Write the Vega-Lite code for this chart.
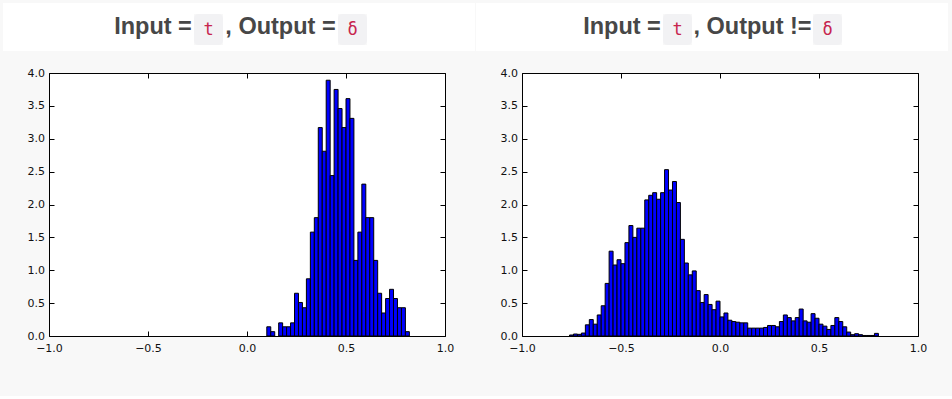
{
  "$schema": "https://vega.github.io/schema/vega-lite/v6.json",
  "background": "#f8f8f8",
  "padding": {"left": 3, "top": 3, "right": 4, "bottom": 42},
  "config": {"view": {"stroke": null}},
  "spacing": 1,
  "hconcat": [
    {
      "vconcat": [
        {
          "hconcat": [
            {"width": 109, "height": 48, "view": {"fill": "white", "stroke": null}, "data": {"values": []}, "mark": "text"},
            {"width": 82, "height": 48, "view": {"fill": "white", "stroke": null}, "data": {"values": [{"label": "Input ="}]}, "mark": {"type": "text", "font": "Liberation Sans", "fontWeight": "bold", "fontSize": 23.5, "fill": "#474747"}, "encoding": {"text": {"field": "label"}}},
            {
              "vconcat": [
                {"width": 29, "height": 11, "view": {"fill": "white", "stroke": null}, "data": {"values": []}, "mark": "text"},
                {"width": 29, "height": 31, "view": {"fill": "#f2f2f4", "stroke": null, "cornerRadius": 4}, "data": {"values": [{"label": "t"}]}, "mark": {"type": "text", "font": "DejaVu Sans Mono", "fontSize": 17, "fill": "#c7254e"}, "encoding": {"text": {"field": "label"}}},
                {"width": 29, "height": 6, "view": {"fill": "white", "stroke": null}, "data": {"values": []}, "mark": "text"}
              ],
              "spacing": 0
            },
            {"width": 115, "height": 48, "view": {"fill": "white", "stroke": null}, "data": {"values": [{"label": ", Output ="}]}, "mark": {"type": "text", "font": "Liberation Sans", "fontWeight": "bold", "fontSize": 23.5, "fill": "#474747"}, "encoding": {"text": {"field": "label"}}},
            {
              "vconcat": [
                {"width": 29, "height": 11, "view": {"fill": "white", "stroke": null}, "data": {"values": []}, "mark": "text"},
                {"width": 29, "height": 31, "view": {"fill": "#f2f2f4", "stroke": null, "cornerRadius": 4}, "data": {"values": [{"label": "δ"}]}, "mark": {"type": "text", "font": "DejaVu Sans Mono", "fontSize": 17, "fill": "#c7254e"}, "encoding": {"text": {"field": "label"}}},
                {"width": 29, "height": 6, "view": {"fill": "white", "stroke": null}, "data": {"values": []}, "mark": "text"}
              ],
              "spacing": 0
            },
            {"width": 108, "height": 48, "view": {"fill": "white", "stroke": null}, "data": {"values": []}, "mark": "text"}
          ],
          "spacing": 0
        },
        {
          "hconcat": [
            {"width": 23, "height": 10, "data": {"values": []}, "mark": "text"},
            {
              "width": 396, "height": 263,
              "view": {"fill": "white", "stroke": "#000", "strokeWidth": 1},
              "data": {"values": [
                {"bin_start": 0.10, "bin_end": 0.12, "density": 0.14},
                {"bin_start": 0.12, "bin_end": 0.14, "density": 0.066},
                {"bin_start": 0.16, "bin_end": 0.18, "density": 0.20},
                {"bin_start": 0.18, "bin_end": 0.20, "density": 0.14},
                {"bin_start": 0.20, "bin_end": 0.22, "density": 0.14},
                {"bin_start": 0.22, "bin_end": 0.24, "density": 0.20},
                {"bin_start": 0.24, "bin_end": 0.26, "density": 0.65},
                {"bin_start": 0.26, "bin_end": 0.28, "density": 0.51},
                {"bin_start": 0.28, "bin_end": 0.30, "density": 0.43},
                {"bin_start": 0.30, "bin_end": 0.32, "density": 0.87},
                {"bin_start": 0.32, "bin_end": 0.34, "density": 1.58},
                {"bin_start": 0.34, "bin_end": 0.36, "density": 1.80},
                {"bin_start": 0.36, "bin_end": 0.38, "density": 3.17},
                {"bin_start": 0.38, "bin_end": 0.40, "density": 2.81},
                {"bin_start": 0.40, "bin_end": 0.42, "density": 3.89},
                {"bin_start": 0.42, "bin_end": 0.44, "density": 2.44},
                {"bin_start": 0.44, "bin_end": 0.46, "density": 3.75},
                {"bin_start": 0.46, "bin_end": 0.48, "density": 3.46},
                {"bin_start": 0.48, "bin_end": 0.50, "density": 3.17},
                {"bin_start": 0.50, "bin_end": 0.52, "density": 3.61},
                {"bin_start": 0.52, "bin_end": 0.54, "density": 3.31},
                {"bin_start": 0.54, "bin_end": 0.56, "density": 1.15},
                {"bin_start": 0.56, "bin_end": 0.58, "density": 1.58},
                {"bin_start": 0.58, "bin_end": 0.60, "density": 2.31},
                {"bin_start": 0.60, "bin_end": 0.62, "density": 1.80},
                {"bin_start": 0.62, "bin_end": 0.64, "density": 1.80},
                {"bin_start": 0.64, "bin_end": 0.66, "density": 1.15},
                {"bin_start": 0.66, "bin_end": 0.68, "density": 0.65},
                {"bin_start": 0.68, "bin_end": 0.70, "density": 0.35},
                {"bin_start": 0.70, "bin_end": 0.72, "density": 0.57},
                {"bin_start": 0.72, "bin_end": 0.74, "density": 0.71},
                {"bin_start": 0.74, "bin_end": 0.76, "density": 0.57},
                {"bin_start": 0.76, "bin_end": 0.78, "density": 0.43},
                {"bin_start": 0.78, "bin_end": 0.80, "density": 0.43},
                {"bin_start": 0.80, "bin_end": 0.82, "density": 0.066}
              ]},
              "layer": [
                {
                  "mark": {"type": "bar", "fill": "#0000ff", "stroke": "#000", "strokeWidth": 1},
                  "encoding": {
                    "x": {"field": "bin_start", "type": "quantitative", "scale": {"domain": [-1, 1], "nice": false, "zero": false},
                          "axis": {"orient": "bottom", "title": null, "values": [-1, -0.5, 0, 0.5, 1], "format": ".1f", "grid": false, "domain": false, "tickSize": -5, "tickColor": "#000", "labelPadding": 11, "labelFont": "DejaVu Sans", "labelFontSize": 11, "labelColor": "#111", "labelFlush": false}},
                    "x2": {"field": "bin_end"},
                    "y": {"field": "density", "type": "quantitative", "scale": {"domain": [0, 4], "nice": false},
                          "axis": {"orient": "left", "title": null, "values": [0, 0.5, 1, 1.5, 2, 2.5, 3, 3.5, 4], "format": ".1f", "grid": false, "domain": false, "tickSize": -5, "tickColor": "#000", "labelPadding": 9.5, "labelFont": "DejaVu Sans", "labelFontSize": 11, "labelColor": "#111", "labelFlush": false}},
                    "y2": {"datum": 0}
                  }
                },
                {
                  "mark": {"type": "point", "opacity": 0},
                  "encoding": {
                    "x": {"field": "bin_start", "type": "quantitative", "axis": {"orient": "top", "title": null, "labels": false, "values": [-1, -0.5, 0, 0.5, 1], "grid": false, "domain": false, "tickSize": -5, "tickColor": "#000"}},
                    "y": {"field": "density", "type": "quantitative", "axis": {"orient": "right", "title": null, "labels": false, "values": [0, 0.5, 1, 1.5, 2, 2.5, 3, 3.5, 4], "grid": false, "domain": false, "tickSize": -5, "tickColor": "#000"}}
                  }
                }
              ],
              "resolve": {"axis": {"x": "independent", "y": "independent"}}
            }
          ],
          "spacing": 0
        }
      ],
      "spacing": 15
    },
    {
      "vconcat": [
        {
          "hconcat": [
            {"width": 105, "height": 48, "view": {"fill": "white", "stroke": null}, "data": {"values": []}, "mark": "text"},
            {"width": 82, "height": 48, "view": {"fill": "white", "stroke": null}, "data": {"values": [{"label": "Input ="}]}, "mark": {"type": "text", "font": "Liberation Sans", "fontWeight": "bold", "fontSize": 23.5, "fill": "#474747"}, "encoding": {"text": {"field": "label"}}},
            {
              "vconcat": [
                {"width": 29, "height": 11, "view": {"fill": "white", "stroke": null}, "data": {"values": []}, "mark": "text"},
                {"width": 29, "height": 31, "view": {"fill": "#f2f2f4", "stroke": null, "cornerRadius": 4}, "data": {"values": [{"label": "t"}]}, "mark": {"type": "text", "font": "DejaVu Sans Mono", "fontSize": 17, "fill": "#c7254e"}, "encoding": {"text": {"field": "label"}}},
                {"width": 29, "height": 6, "view": {"fill": "white", "stroke": null}, "data": {"values": []}, "mark": "text"}
              ],
              "spacing": 0
            },
            {"width": 121, "height": 48, "view": {"fill": "white", "stroke": null}, "data": {"values": [{"label": ", Output !="}]}, "mark": {"type": "text", "font": "Liberation Sans", "fontWeight": "bold", "fontSize": 23.5, "fill": "#474747"}, "encoding": {"text": {"field": "label"}}},
            {
              "vconcat": [
                {"width": 29, "height": 11, "view": {"fill": "white", "stroke": null}, "data": {"values": []}, "mark": "text"},
                {"width": 29, "height": 31, "view": {"fill": "#f2f2f4", "stroke": null, "cornerRadius": 4}, "data": {"values": [{"label": "δ"}]}, "mark": {"type": "text", "font": "DejaVu Sans Mono", "fontSize": 17, "fill": "#c7254e"}, "encoding": {"text": {"field": "label"}}},
                {"width": 29, "height": 6, "view": {"fill": "white", "stroke": null}, "data": {"values": []}, "mark": "text"}
              ],
              "spacing": 0
            },
            {"width": 106, "height": 48, "view": {"fill": "white", "stroke": null}, "data": {"values": []}, "mark": "text"}
          ],
          "spacing": 0
        },
        {
          "hconcat": [
            {"width": 23, "height": 10, "data": {"values": []}, "mark": "text"},
            {
              "width": 396, "height": 263,
              "view": {"fill": "white", "stroke": "#000", "strokeWidth": 1},
              "data": {"values": [
                {"bin_start": -0.76, "bin_end": -0.74, "density": 0.015},
                {"bin_start": -0.74, "bin_end": -0.72, "density": 0.03},
                {"bin_start": -0.72, "bin_end": -0.70, "density": 0.025},
                {"bin_start": -0.70, "bin_end": -0.68, "density": 0.045},
                {"bin_start": -0.68, "bin_end": -0.66, "density": 0.17},
                {"bin_start": -0.66, "bin_end": -0.64, "density": 0.25},
                {"bin_start": -0.64, "bin_end": -0.62, "density": 0.18},
                {"bin_start": -0.62, "bin_end": -0.60, "density": 0.32},
                {"bin_start": -0.60, "bin_end": -0.58, "density": 0.46},
                {"bin_start": -0.58, "bin_end": -0.56, "density": 0.80},
                {"bin_start": -0.56, "bin_end": -0.54, "density": 1.29},
                {"bin_start": -0.54, "bin_end": -0.52, "density": 1.08},
                {"bin_start": -0.52, "bin_end": -0.50, "density": 1.16},
                {"bin_start": -0.50, "bin_end": -0.48, "density": 1.10},
                {"bin_start": -0.48, "bin_end": -0.46, "density": 1.42},
                {"bin_start": -0.46, "bin_end": -0.44, "density": 1.68},
                {"bin_start": -0.44, "bin_end": -0.42, "density": 1.50},
                {"bin_start": -0.42, "bin_end": -0.40, "density": 1.64},
                {"bin_start": -0.40, "bin_end": -0.38, "density": 1.64},
                {"bin_start": -0.38, "bin_end": -0.36, "density": 2.07},
                {"bin_start": -0.36, "bin_end": -0.34, "density": 2.14},
                {"bin_start": -0.34, "bin_end": -0.32, "density": 2.18},
                {"bin_start": -0.32, "bin_end": -0.30, "density": 2.08},
                {"bin_start": -0.30, "bin_end": -0.28, "density": 2.18},
                {"bin_start": -0.28, "bin_end": -0.26, "density": 2.53},
                {"bin_start": -0.26, "bin_end": -0.24, "density": 2.22},
                {"bin_start": -0.24, "bin_end": -0.22, "density": 2.35},
                {"bin_start": -0.22, "bin_end": -0.20, "density": 2.03},
                {"bin_start": -0.20, "bin_end": -0.18, "density": 1.47},
                {"bin_start": -0.18, "bin_end": -0.16, "density": 1.11},
                {"bin_start": -0.16, "bin_end": -0.14, "density": 0.93},
                {"bin_start": -0.14, "bin_end": -0.12, "density": 0.99},
                {"bin_start": -0.12, "bin_end": -0.10, "density": 0.69},
                {"bin_start": -0.10, "bin_end": -0.08, "density": 0.51},
                {"bin_start": -0.08, "bin_end": -0.06, "density": 0.63},
                {"bin_start": -0.06, "bin_end": -0.04, "density": 0.48},
                {"bin_start": -0.04, "bin_end": -0.02, "density": 0.40},
                {"bin_start": -0.02, "bin_end": 0.00, "density": 0.53},
                {"bin_start": 0.00, "bin_end": 0.02, "density": 0.29},
                {"bin_start": 0.02, "bin_end": 0.04, "density": 0.35},
                {"bin_start": 0.04, "bin_end": 0.06, "density": 0.24},
                {"bin_start": 0.06, "bin_end": 0.08, "density": 0.22},
                {"bin_start": 0.08, "bin_end": 0.10, "density": 0.21},
                {"bin_start": 0.10, "bin_end": 0.12, "density": 0.20},
                {"bin_start": 0.12, "bin_end": 0.14, "density": 0.20},
                {"bin_start": 0.14, "bin_end": 0.16, "density": 0.12},
                {"bin_start": 0.16, "bin_end": 0.18, "density": 0.12},
                {"bin_start": 0.18, "bin_end": 0.20, "density": 0.12},
                {"bin_start": 0.20, "bin_end": 0.22, "density": 0.12},
                {"bin_start": 0.22, "bin_end": 0.24, "density": 0.13},
                {"bin_start": 0.24, "bin_end": 0.26, "density": 0.16},
                {"bin_start": 0.26, "bin_end": 0.28, "density": 0.16},
                {"bin_start": 0.28, "bin_end": 0.30, "density": 0.14},
                {"bin_start": 0.30, "bin_end": 0.32, "density": 0.22},
                {"bin_start": 0.32, "bin_end": 0.34, "density": 0.32},
                {"bin_start": 0.34, "bin_end": 0.36, "density": 0.28},
                {"bin_start": 0.36, "bin_end": 0.38, "density": 0.23},
                {"bin_start": 0.38, "bin_end": 0.40, "density": 0.28},
                {"bin_start": 0.40, "bin_end": 0.42, "density": 0.41},
                {"bin_start": 0.42, "bin_end": 0.44, "density": 0.23},
                {"bin_start": 0.44, "bin_end": 0.46, "density": 0.21},
                {"bin_start": 0.46, "bin_end": 0.48, "density": 0.34},
                {"bin_start": 0.48, "bin_end": 0.50, "density": 0.27},
                {"bin_start": 0.50, "bin_end": 0.52, "density": 0.18},
                {"bin_start": 0.52, "bin_end": 0.54, "density": 0.15},
                {"bin_start": 0.54, "bin_end": 0.56, "density": 0.10},
                {"bin_start": 0.56, "bin_end": 0.58, "density": 0.16},
                {"bin_start": 0.58, "bin_end": 0.60, "density": 0.28},
                {"bin_start": 0.60, "bin_end": 0.62, "density": 0.22},
                {"bin_start": 0.62, "bin_end": 0.64, "density": 0.14},
                {"bin_start": 0.64, "bin_end": 0.66, "density": 0.06},
                {"bin_start": 0.66, "bin_end": 0.68, "density": 0.02},
                {"bin_start": 0.68, "bin_end": 0.70, "density": 0.035},
                {"bin_start": 0.70, "bin_end": 0.72, "density": 0.02},
                {"bin_start": 0.72, "bin_end": 0.74, "density": 0.008},
                {"bin_start": 0.74, "bin_end": 0.76, "density": 0.008},
                {"bin_start": 0.76, "bin_end": 0.78, "density": 0.008},
                {"bin_start": 0.78, "bin_end": 0.80, "density": 0.04}
              ]},
              "layer": [
                {
                  "mark": {"type": "bar", "fill": "#0000ff", "stroke": "#000", "strokeWidth": 1},
                  "encoding": {
                    "x": {"field": "bin_start", "type": "quantitative", "scale": {"domain": [-1, 1], "nice": false, "zero": false},
                          "axis": {"orient": "bottom", "title": null, "values": [-1, -0.5, 0, 0.5, 1], "format": ".1f", "grid": false, "domain": false, "tickSize": -5, "tickColor": "#000", "labelPadding": 11, "labelFont": "DejaVu Sans", "labelFontSize": 11, "labelColor": "#111", "labelFlush": false}},
                    "x2": {"field": "bin_end"},
                    "y": {"field": "density", "type": "quantitative", "scale": {"domain": [0, 4], "nice": false},
                          "axis": {"orient": "left", "title": null, "values": [0, 0.5, 1, 1.5, 2, 2.5, 3, 3.5, 4], "format": ".1f", "grid": false, "domain": false, "tickSize": -5, "tickColor": "#000", "labelPadding": 9.5, "labelFont": "DejaVu Sans", "labelFontSize": 11, "labelColor": "#111", "labelFlush": false}},
                    "y2": {"datum": 0}
                  }
                },
                {
                  "mark": {"type": "point", "opacity": 0},
                  "encoding": {
                    "x": {"field": "bin_start", "type": "quantitative", "axis": {"orient": "top", "title": null, "labels": false, "values": [-1, -0.5, 0, 0.5, 1], "grid": false, "domain": false, "tickSize": -5, "tickColor": "#000"}},
                    "y": {"field": "density", "type": "quantitative", "axis": {"orient": "right", "title": null, "labels": false, "values": [0, 0.5, 1, 1.5, 2, 2.5, 3, 3.5, 4], "grid": false, "domain": false, "tickSize": -5, "tickColor": "#000"}}
                  }
                }
              ],
              "resolve": {"axis": {"x": "independent", "y": "independent"}}
            }
          ],
          "spacing": 0
        }
      ],
      "spacing": 15
    }
  ]
}
